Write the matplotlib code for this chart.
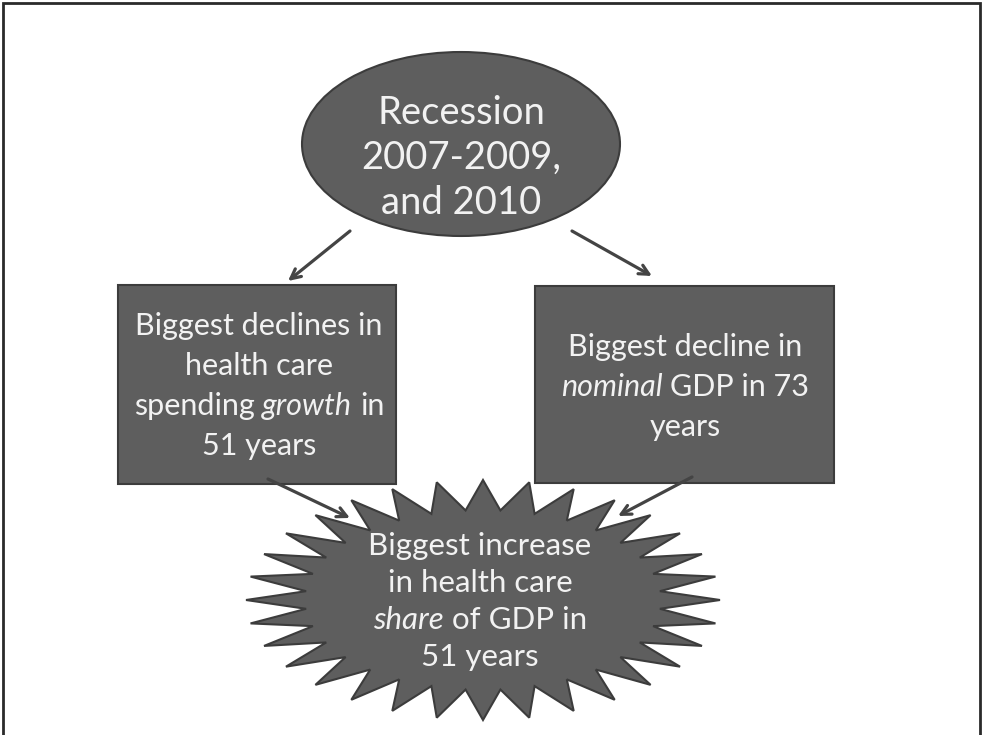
import numpy as np
import matplotlib.pyplot as plt
from matplotlib.patches import Ellipse, Rectangle, Polygon

# text content of the diagram, one list of (segment, italic) per line
top_lines = [[("Recession", False)], [("2007-2009,", False)], [("and 2010", False)]]
left_lines = [[("Biggest declines in", False)], [("health care", False)],
              [("spending", False), ("growth", True), ("in", False)], [("51 years", False)]]
right_lines = [[("Biggest decline in", False)],
               [("nominal", True), ("GDP in 73", False)], [("years", False)]]
star_lines = [[("Biggest increase", False)], [("in health care", False)],
              [("share", True), ("of GDP in", False)], [("51 years", False)]]

FILL = "#5e5e5e"
EDGE = "#3c3c3c"
TXT = "#f2f2f2"
FONT = "Lato"

fig = plt.figure(figsize=(9.82, 7.35), dpi=100)
ax = fig.add_axes([0, 0, 1, 1])
ax.set_xlim(0, 982)
ax.set_ylim(735, 0)
ax.axis("off")

# outer frame
ax.plot([3, 3, 980, 980], [740, 3, 3, 740], color="#2a2a2a", lw=2, solid_joinstyle="miter")

ax.add_patch(Ellipse((461, 144), 318, 184, facecolor=FILL, edgecolor=EDGE, lw=1.5, zorder=2))
ax.add_patch(Rectangle((118, 285), 278, 199, facecolor=FILL, edgecolor=EDGE, lw=1.5, zorder=2))
ax.add_patch(Rectangle((535, 286), 299, 197, facecolor=FILL, edgecolor=EDGE, lw=1.5, zorder=2))

# 32 point star
n = 32
ang = -np.pi / 2 + np.arange(2 * n) * np.pi / n
rad = np.where(np.arange(2 * n) % 2 == 0, 1.0, 0.75)
sx = 483 + 237 * rad * np.cos(ang)
sy = 600 + 120 * rad * np.sin(ang)
ax.add_patch(Polygon(np.column_stack([sx, sy]), closed=True, facecolor=FILL,
                     edgecolor=EDGE, lw=1.5, zorder=2))

arrow = dict(arrowstyle="->,head_length=0.7,head_width=0.35", color="#444444", lw=2.3,
             shrinkA=0, shrinkB=0)
for (x0, y0), (x1, y1) in [((350, 231), (288, 281)), ((572, 231), (652, 276)),
                           ((268, 479), (350, 518)), ((692, 477), (618, 516))]:
    ax.annotate("", xy=(x1, y1), xytext=(x0, y0), arrowprops=arrow, zorder=3)

renderer = fig.canvas.get_renderer()


def draw_line(segs, cx, cy, size):
    texts = []
    for s, it in segs:
        t = ax.text(0, cy, s, fontsize=size, color=TXT, family=FONT,
                    style="italic" if it else "normal", ha="left", va="center", zorder=4)
        texts.append(t)
    sp = ax.text(0, 0, "a a", fontsize=size, family=FONT)
    aa = ax.text(0, 0, "aa", fontsize=size, family=FONT)
    space = sp.get_window_extent(renderer).width - aa.get_window_extent(renderer).width
    sp.remove()
    aa.remove()
    widths = [t.get_window_extent(renderer).width for t in texts]
    total = sum(widths) + space * (len(texts) - 1)
    x = cx - total / 2
    for t, w in zip(texts, widths):
        t.set_x(x)
        x += w + space


def draw_block(lines, cx, y0, step, size):
    for i, segs in enumerate(lines):
        draw_line(segs, cx, y0 + i * step, size)


draw_block(top_lines, 461, 113, 45, 27.5)
draw_block(left_lines, 259, 326, 40, 22)
draw_block(right_lines, 685, 347, 40, 22)
draw_block(star_lines, 480, 546, 37, 22.5)

fig.savefig("out.png", dpi=100)
